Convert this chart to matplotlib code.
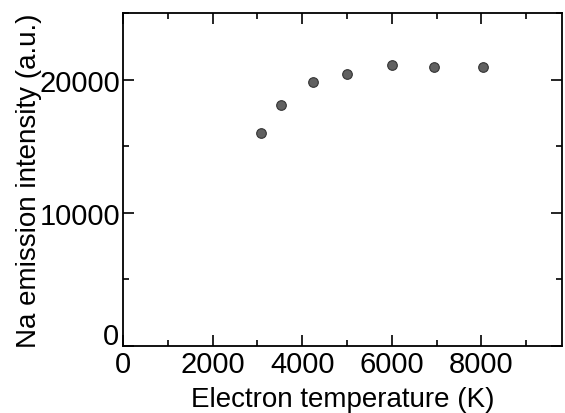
import matplotlib
matplotlib.use("Agg")
import matplotlib.pyplot as plt
from matplotlib.ticker import MultipleLocator, FuncFormatter

# data
temp_K = [3070, 3530, 4240, 5000, 6000, 6940, 8040]
na_intensity = [16010, 18130, 19830, 20400, 21070, 20970, 20970]

plt.rcParams['font.family'] = ['Liberation Sans', 'DejaVu Sans']

fig = plt.figure(figsize=(5.65, 4.14), dpi=100)
ax = fig.add_axes([123/565, 1 - 347/414, (562-123)/565, (347-14)/414])

ax.scatter(temp_K, na_intensity, s=48, c='#606060', edgecolors='#333333', linewidths=0.8, zorder=3)

ax.set_xlim(0, 9800)
ax.set_ylim(0, 25000)
ax.xaxis.set_major_locator(MultipleLocator(2000))
ax.xaxis.set_minor_locator(MultipleLocator(1000))
ax.yaxis.set_major_locator(MultipleLocator(10000))
ax.yaxis.set_minor_locator(MultipleLocator(5000))
# y "0" is drawn by hand a bit higher so it clears the x "0"
ax.yaxis.set_major_formatter(FuncFormatter(lambda v, p: '' if v == 0 else '%d' % v))
ax.annotate('0', xy=(0, 0), xycoords='axes fraction', xytext=(-3, 7), textcoords='offset points',
            ha='right', va='center', fontsize=21)
ax.tick_params(which='both', direction='in', top=True, right=True, labelsize=21, width=1.2, pad=2)
ax.tick_params(axis='x', pad=3)
ax.tick_params(which='major', length=8)
ax.tick_params(which='minor', length=4)
for sp in ax.spines.values():
    sp.set_linewidth(1.3)

ax.set_xlabel('Electron temperature (K)', fontsize=20, labelpad=6)
ax.set_ylabel('Na emission intensity (a.u.)', fontsize=20, labelpad=-2)

fig.savefig('out.png', dpi=100)
